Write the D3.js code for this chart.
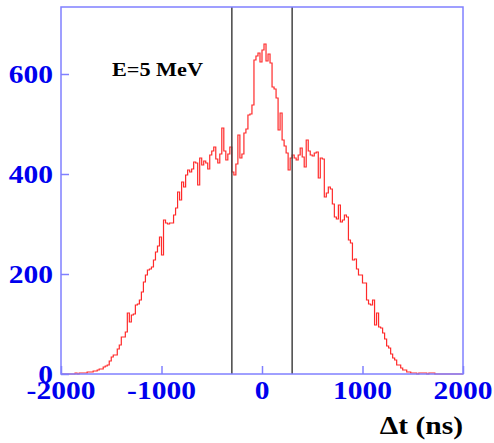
<!DOCTYPE html>
<html>
<head>
<meta charset="utf-8">
<script src="https://cdn.jsdelivr.net/npm/d3@7"></script>
<style>
  body { margin: 0; background: #fff; }
  svg { display: block; }
</style>
</head>
<body>
<svg width="494" height="443"></svg>
<script>
// histogram: 20 ns bins from -2000 ns, counts
const binStart = -2000;
const binWidth = 20;
const counts = [
  0, 0, 0, 0, 0, 0, 0, 2, 0, 2,
  2, 2, 2, 4, 4, 4, 6, 6, 8, 10,
  10, 14, 16, 18, 26, 34, 38, 38, 50, 58,
  74, 74, 84, 122, 104, 118, 120, 138, 140, 148,
  164, 184, 198, 208, 210, 214, 228, 244, 256, 274,
  238, 308, 302, 300, 302, 302, 318, 332, 364, 348,
  384, 374, 398, 408, 404, 410, 424, 422, 378, 432,
  418, 426, 422, 410, 438, 446, 454, 430, 422, 440,
  492, 446, 428, 440, 454, 404, 398, 420, 478, 432,
  440, 482, 490, 518, 520, 538, 628, 636, 642, 624,
  648, 660, 626, 640, 622, 574, 570, 552, 488, 522,
  468, 456, 442, 408, 432, 438, 432, 428, 438, 452,
  434, 414, 468, 446, 438, 436, 442, 444, 392, 432,
  430, 354, 362, 374, 370, 340, 314, 310, 338, 304,
  308, 318, 314, 268, 262, 228, 230, 210, 198, 198,
  182, 182, 148, 140, 138, 148, 98, 122, 94, 92,
  82, 70, 56, 52, 40, 32, 28, 18, 18, 12,
  8, 8, 4, 4, 2, 2, 2, 0, 2, 2,
  2, 2, 0, 2, 2, 2, 0, 0, 0, 0,
  0, 0, 0, 0, 0, 0, 0, 0, 0, 0
];
const cutLines = [-300, 300];
const xTicks = [-2000, -1000, 0, 1000, 2000];
const yTicks = [0, 200, 400, 600];
const xTitle = "\u0394t (ns)";
const label = "E=5 MeV";

const svg = d3.select("svg");
const plot = {left: 61, right: 463, top: 7, bottom: 374};

const x = d3.scaleLinear().domain([-2000, 2000]).range([plot.left, plot.right]);
const y = d3.scaleLinear().domain([0, 734]).range([plot.bottom, plot.top]);

const blue = "#0000ee";
const frameColor = "#8080ff";
const font = "'Liberation Serif', 'Times New Roman', serif";

// histogram outline
let pts = counts.map((c, i) => [binStart + i * binWidth, c]);
pts.push([binStart + counts.length * binWidth, counts[counts.length - 1]]);

svg.append("path")
  .datum(pts)
  .attr("fill", "none")
  .attr("stroke", "#ff2a2a")
  .attr("stroke-width", 1.2)
  .attr("d", d3.line().x(d => x(d[0])).y(d => y(d[1])).curve(d3.curveStepAfter));

// cut lines
svg.selectAll(".cut")
  .data(cutLines).enter()
  .append("line")
  .attr("class", "cut")
  .attr("x1", d => x(d)).attr("x2", d => x(d))
  .attr("y1", plot.top).attr("y2", plot.bottom)
  .attr("stroke", "#444")
  .attr("stroke-width", 1.5);

// frame
svg.append("rect")
  .attr("x", plot.left).attr("y", plot.top)
  .attr("width", plot.right - plot.left).attr("height", plot.bottom - plot.top)
  .attr("fill", "none")
  .attr("stroke", frameColor)
  .attr("stroke-width", 1.5);

// x axis, ticks pointing inward
let xAxis = svg.append("g")
  .attr("transform", "translate(0," + plot.bottom + ")")
  .call(d3.axisTop(x).tickValues(xTicks).tickSize(8).tickFormat(""));
xAxis.select(".domain").remove();
xAxis.selectAll("line").attr("stroke", frameColor).attr("stroke-width", 1.5);

svg.selectAll(".xlab")
  .data(xTicks).enter()
  .append("text")
  .attr("class", "xlab")
  .attr("transform", d => "translate(" + x(d) + ",399) scale(1.18,1)")
  .attr("text-anchor", "middle")
  .attr("font-family", font).attr("font-weight", "bold").attr("font-size", 25)
  .attr("fill", blue)
  .text(d => d);

// y axis, ticks pointing inward
let yAxis = svg.append("g")
  .attr("transform", "translate(" + plot.left + ",0)")
  .call(d3.axisRight(y).tickValues(yTicks).tickSize(8).tickFormat(""));
yAxis.select(".domain").remove();
yAxis.selectAll("line").attr("stroke", frameColor).attr("stroke-width", 1.5);

svg.selectAll(".ylab")
  .data(yTicks).enter()
  .append("text")
  .attr("class", "ylab")
  .attr("transform", d => "translate(53," + (y(d) + 8.5) + ") scale(1.18,1)")
  .attr("text-anchor", "end")
  .attr("font-family", font).attr("font-weight", "bold").attr("font-size", 25)
  .attr("fill", blue)
  .text(d => d);

// axis title
svg.append("text")
  .attr("transform", "translate(463,434) scale(1.18,1)")
  .attr("text-anchor", "end")
  .attr("font-family", font).attr("font-weight", "bold").attr("font-size", 25)
  .attr("fill", "#000")
  .text(xTitle);

// energy label
svg.append("text")
  .attr("transform", "translate(112,76) scale(1.17,1)")
  .attr("font-family", font).attr("font-weight", "bold").attr("font-size", 19)
  .attr("fill", "#000")
  .text(label);
</script>
</body>
</html>
